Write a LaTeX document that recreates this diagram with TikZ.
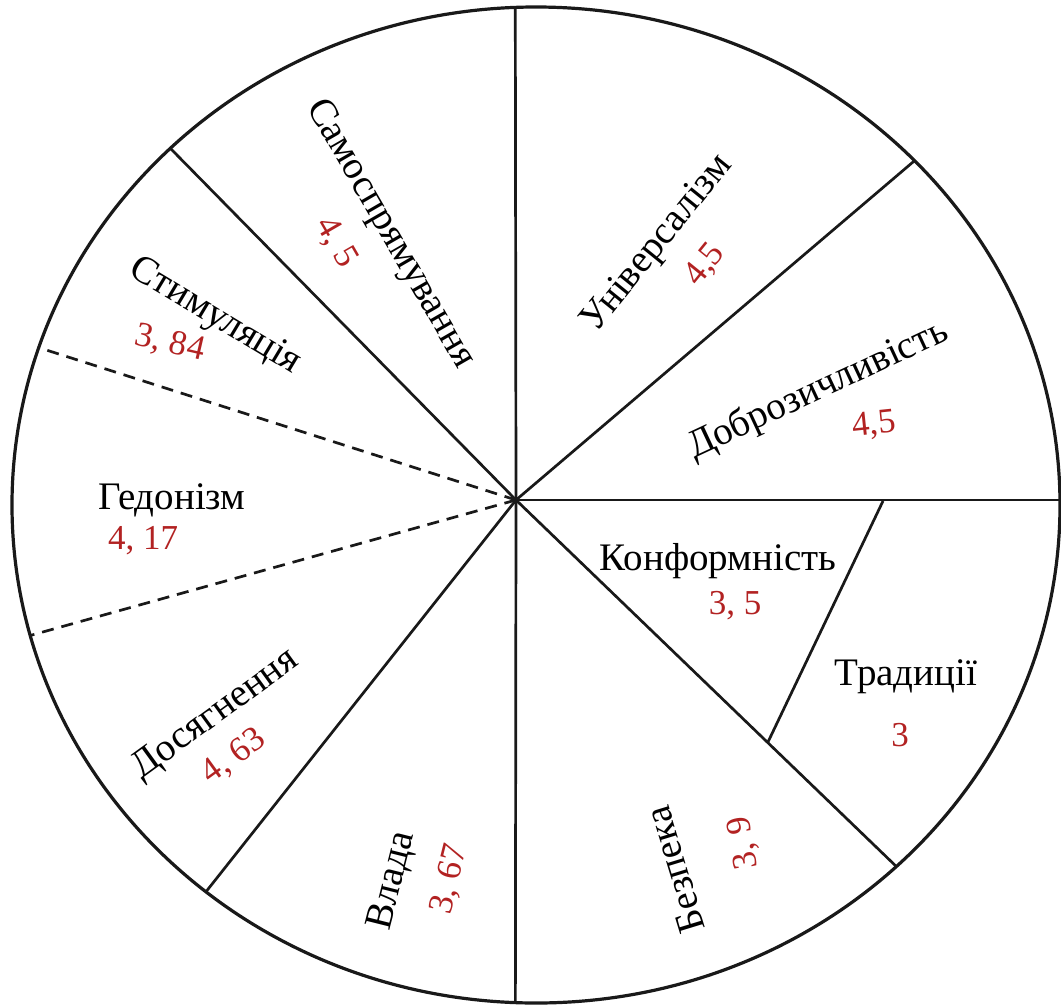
\documentclass[tikz,border=0pt]{standalone}
\usepackage{fontspec}
\setmainfont{Liberation Serif}
\definecolor{valred}{RGB}{178,34,34}
\begin{document}
\begin{tikzpicture}[x=1pt,y=-1pt,
  spoke/.style={line width=2.7pt,black!90},
  dashspoke/.style={line width=2.7pt,black!90,dash pattern=on 12pt off 8pt},
  rim/.style={line width=3.2pt,black!90},
  lbl/.style={font=\fontsize{39}{42}\selectfont,inner sep=0pt,text=black},
  val/.style={font=\fontsize{35}{38}\selectfont,inner sep=0pt,text=valred}]
\useasboundingbox (0,0) rectangle (1061,1005);
\coordinate (O) at (516,500);
\coordinate (C) at (536,505);
% far points of the spokes
\coordinate (pN) at (515,-200);
\coordinate (pS) at (515,1300);
\coordinate (pE) at (1300,500);
\coordinate (pNE) at (516+397*2,500-338*2);
\coordinate (pNW) at (516-344*2,500-350*2);
\coordinate (pDU) at (516-476*2,500-152*2);
\coordinate (pDL) at (516-484*2,500+135*2);
\coordinate (pSW) at (516-311*2,500+393*2);
\coordinate (pSE) at (516+384*2,500+370*2);
\coordinate (tA) at (883,501);
\coordinate (tB) at (768,742);
\begin{scope}
\clip (C) ellipse [x radius=524, y radius=498];
\draw[spoke] (O) -- (pN);
\draw[spoke] (O) -- (pS);
\draw[spoke] (O) -- (pE);
\draw[spoke] (O) -- (pNE);
\draw[spoke] (O) -- (pNW);
\draw[spoke] (O) -- (pSW);
\draw[spoke] (O) -- (pSE);
\draw[dashspoke] (O) -- (pDU);
\draw[dashspoke] (O) -- (pDL);
\end{scope}
\draw[spoke] (tA) -- (tB);
\draw[rim] (C) ellipse [x radius=524, y radius=498];
% labels
\node[lbl,rotate=-60] (l1) at (390,234) {Самоспрямування};
\node[val,rotate=-60] (v1) at (336,243) {4, 5};
\node[lbl,rotate=51] (l2) at (658,244) {Універсалізм};
\node[val,rotate=51] (v2) at (705,265) {4,5};
\node[lbl,rotate=25] (l3) at (818,390) {Доброзичливість};
\node[val,rotate=6] (v3) at (874,425) {4,5};
\node[lbl,rotate=-31] (l4) at (215,317) {Стимуляція};
\node[val,rotate=-13] (v4) at (170,344) {3, 84};
\node[lbl] (l5) at (172,500) {Гедонізм};
\node[val] (v5) at (143,541) {4, 17};
\node[lbl,rotate=36] (l6) at (216,715) {Досягнення};
\node[val,rotate=36] (v6) at (234,757) {4, 63};
\node[lbl,rotate=76] (l7) at (393,881) {Влада};
\node[val,rotate=76] (v7) at (450,879) {3, 67};
\node[lbl,rotate=107] (l8) at (675,870) {Безпека};
\node[val,rotate=100] (v8) at (744,843) {3, 9};
\node[lbl] (l9) at (718,561) {Конформність};
\node[val] (v9) at (735,606) {3, 5};
\node[lbl] (l10) at (906,677) {Традиції};
\node[val] (v10) at (900,735) {3};
\end{tikzpicture}
\end{document}
